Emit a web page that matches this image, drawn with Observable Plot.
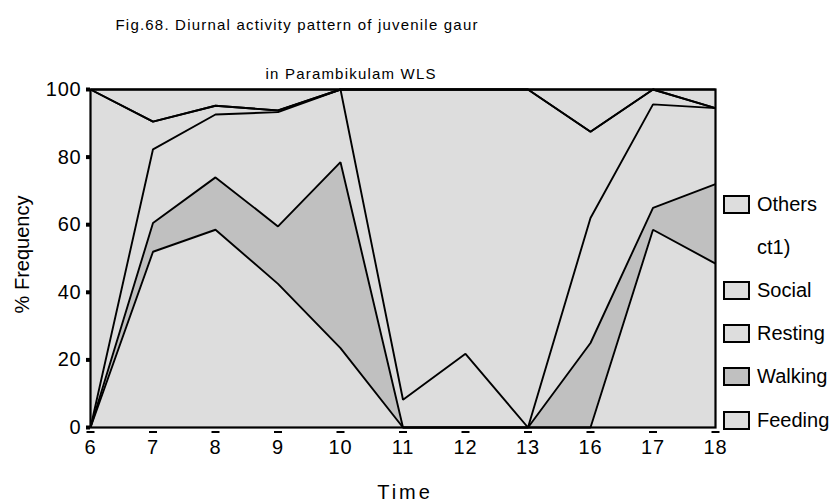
<!DOCTYPE html>
<html>
<head>
<meta charset="utf-8">
<script src="https://cdn.jsdelivr.net/npm/d3@7"></script>
<script src="https://cdn.jsdelivr.net/npm/@observablehq/plot@0.6"></script>
<style>
  html, body { margin: 0; padding: 0; background: #fff; }
  #wrap { position: relative; width: 835px; height: 504px; font-family: "Liberation Sans", Arial, sans-serif; }
  .legend { position: absolute; left: 723px; top: 0; }
  .item { position: absolute; left: 0; display: flex; align-items: center; white-space: nowrap; font-size: 20px; color: #000; }
  .sw { width: 23px; height: 15px; border: 2px solid #000; margin-right: 7px; }
</style>
</head>
<body>
<div id="wrap"></div>
<script>
const timeLabels = ["6", "7", "8", "9", "10", "11", "12", "13", "16", "17", "18"];
const seriesNames = ["Feeding", "Walking", "Resting", "Social", "ct1)", "Others"];
const feeding = [0, 52, 58.5, 42.5, 23.5, 0, 0, 0, 0, 58.5, 48.5];
const walking = [0, 8.5, 15.5, 17, 55, 0, 0, 0, 25, 6.5, 23.5];
const resting = [0, 21.8, 18.6, 33.8, 21.5, 8.2, 21.8, 0, 37, 30.6, 22.5];
const social = [100, 8.2, 2.6, 0.5, 0, 91.8, 78.2, 100, 25.5, 4.4, 0];
const ct1 = [0, 0, 0, 0, 0, 0, 0, 0, 0, 0, 0];
const others = [0, 9.5, 4.8, 6.2, 0, 0, 0, 0, 12.5, 0, 5.5];
const seriesColors = ["#dddddd", "#c0c0c0", "#dddddd", "#dddddd", "#dddddd", "#dddddd"];
const yTicks = [0, 20, 40, 60, 80, 100];
const legendOrder = ["Others", "ct1)", "Social", "Resting", "Walking", "Feeding"];
const titleLine1 = "Fig.68. Diurnal activity pattern of juvenile gaur";
const titleLine2 = "in Parambikulam WLS";

const seriesValues = [feeding, walking, resting, social, ct1, others];
const rows = [];
seriesNames.forEach((s, k) => {
  seriesValues[k].forEach((v, i) => rows.push({i, series: s, value: v}));
});
const xIdx = timeLabels.map((_, i) => i);

const chart = Plot.plot({
  width: 835,
  height: 504,
  marginTop: 89,
  marginBottom: 77,
  marginLeft: 90,
  marginRight: 120,
  style: {fontFamily: "Liberation Sans, Arial, sans-serif", fontSize: "20px", background: "white", color: "black"},
  x: {domain: [0, timeLabels.length - 1]},
  y: {domain: [0, 100]},
  color: {domain: seriesNames, range: seriesColors},
  marks: [
    Plot.areaY(rows, Plot.stackY({order: seriesNames}, {x: "i", y: "value", z: "series", fill: "series"})),
    Plot.lineY(rows, Plot.stackY2({order: seriesNames}, {x: "i", y: "value", z: "series", stroke: "black", strokeWidth: 1.9, strokeLinejoin: "miter", strokeLinecap: "butt"})),
    Plot.frame({stroke: "black", strokeWidth: 2.2}),
    Plot.axisY({ticks: yTicks, tickSize: 4, tickPadding: 5, strokeWidth: 4, fontSize: 20, label: null}),
    Plot.axisX({ticks: xIdx, tickFormat: i => timeLabels[i], tickSize: 0, tickPadding: 12, fontSize: 20, label: null}),
    Plot.dot(xIdx, {x: d => d, y: () => 0, dy: 4.5, stroke: "black", strokeWidth: 2, symbol: {draw(c) { c.moveTo(-4, 0); c.lineTo(4, 0); }}}),
    Plot.text(["Time"], {frameAnchor: "bottom", lineAnchor: "middle", textAnchor: "middle", dy: 65, dx: 2, fontSize: 20}),
    Plot.text(["% Frequency"], {frameAnchor: "left", lineAnchor: "middle", textAnchor: "middle", rotate: -90, dx: -68, dy: -4, fontSize: 20}),
    Plot.text([titleLine1], {frameAnchor: "top-left", lineAnchor: "middle", textAnchor: "start", dx: 25, dy: -64, fontSize: 15}),
    Plot.text([titleLine2], {frameAnchor: "top-left", lineAnchor: "middle", textAnchor: "start", dx: 175, dy: -15.5, fontSize: 15})
  ]
});
const wrap = document.getElementById("wrap");
wrap.appendChild(chart);

// letter spacing tweaks to mimic the original rendering
d3.select(chart).selectAll("text").each(function() {
  const t = this.textContent;
  if (t === titleLine1 || t === titleLine2) this.style.letterSpacing = "1.2px";
  else if (t === "Time") this.style.letterSpacing = "3px";
  else if (/^\d+$/.test(t)) this.style.letterSpacing = "0.8px";
});

const legend = document.createElement("div");
legend.className = "legend";
const tops = [193, 236, 279, 322, 365, 409];
legendOrder.forEach((name, k) => {
  const item = document.createElement("div");
  item.className = "item";
  item.style.top = tops[k] + "px";
  if (name !== "ct1)") {
    const sw = document.createElement("div");
    sw.className = "sw";
    sw.style.background = seriesColors[seriesNames.indexOf(name)];
    item.appendChild(sw);
  } else {
    const sp = document.createElement("div");
    sp.style.width = "34px";
    sp.style.height = "19px";
    item.appendChild(sp);
  }
  const t = document.createElement("span");
  t.textContent = name;
  item.appendChild(t);
  legend.appendChild(item);
});
wrap.appendChild(legend);
</script>
</body>
</html>
